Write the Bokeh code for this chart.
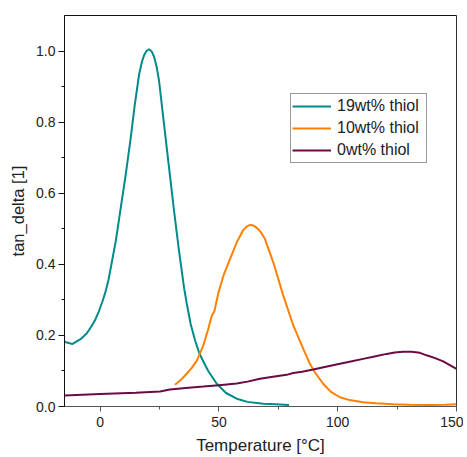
from bokeh.plotting import figure
from bokeh.models import (Range1d, FixedTicker, Legend, LegendItem, Span, PrintfTickFormatter)
from bokeh.embed import file_html
from bokeh.resources import INLINE

# ---- data ----
t19 = [-15, -14.4, -11.6, -8.1, -5.5, -3.9, -2, -0.4, 1, 2.4, 3.5, 4.5, 6.6, 8.7, 10.8,
       12.9, 14.6, 16.4, 17.6, 18.5, 19.5, 20.6, 21.7, 22.7, 23.8, 24.8, 26.9, 29.0, 31.1,
       33.2, 35.3, 36.4, 38.1, 40, 41.6, 42.8, 45.5, 49.1, 53, 57.5, 62, 68.7, 74, 79.5]
v19 = [0.183, 0.181, 0.176, 0.19, 0.207, 0.223, 0.245, 0.27, 0.296, 0.326, 0.356, 0.391,
       0.466, 0.56, 0.654, 0.757, 0.85, 0.934, 0.97, 0.988, 1.0, 1.005, 0.999, 0.984,
       0.955, 0.916, 0.794, 0.672, 0.551, 0.438, 0.335, 0.292, 0.232, 0.185, 0.153, 0.135,
       0.1, 0.064, 0.038, 0.022, 0.013, 0.008, 0.006, 0.004]

t10 = [31.5, 34, 36.4, 38.5, 40.7, 43.4, 45.5, 47.0, 48.1, 49.7, 51.9, 54.7, 57.5, 60.3,
       61.8, 63.1, 64.5, 65.9, 67.5, 69.4, 72.9, 77.1, 81.3, 85.5, 88.3, 90.5, 93.9, 97,
       100.9, 105, 110.7, 116, 123.3, 130, 138.8, 145, 150]
v10 = [0.061, 0.075, 0.092, 0.108, 0.129, 0.171, 0.218, 0.255, 0.268, 0.318, 0.368, 0.415,
       0.462, 0.497, 0.507, 0.511, 0.509, 0.503, 0.492, 0.471, 0.405, 0.312, 0.228, 0.162,
       0.12, 0.095, 0.064, 0.042, 0.026, 0.018, 0.012, 0.009, 0.006, 0.005, 0.004, 0.005,
       0.006]

t0 = [-15, 0, 15, 25.2, 29.4, 36, 43.4, 50, 57.5, 62, 67.3, 72, 78.5, 81.3, 85, 89.7,
      95, 100.9, 105, 110.7, 115, 120.6, 124, 127.5, 131, 134.6, 137.4, 141, 144.4, 150]
v0 = [0.031, 0.035, 0.039, 0.042, 0.048, 0.052, 0.056, 0.06, 0.065, 0.07, 0.078, 0.083,
      0.089, 0.094, 0.098, 0.104, 0.112, 0.12, 0.126, 0.134, 0.14, 0.148, 0.152, 0.154,
      0.154, 0.151, 0.144, 0.136, 0.127, 0.106]

labels = ["19wt% thiol", "10wt% thiol", "0wt% thiol"]
colors = ["#008B8B", "#FF8000", "#6B0A45"]

x_major = [0, 50, 100, 150]
x_minor = [25, 75, 125]
y_major = [0.0, 0.2, 0.4, 0.6, 0.8, 1.0]
y_minor = [0.1, 0.3, 0.5, 0.7, 0.9]

FONT = "Liberation Sans"

p = figure(width=463, height=457, output_backend="svg", toolbar_location=None,
           x_range=Range1d(-15, 150), y_range=Range1d(0, 1.1),
           min_border_left=64, min_border_right=7, min_border_top=15, min_border_bottom=51)
p.xgrid.visible = False
p.ygrid.visible = False
p.outline_line_color = "#111111"
p.outline_line_width = 1
p.background_fill_color = "white"
p.border_fill_color = "white"

r1 = p.line(t19, v19, line_color=colors[0], line_width=2)
r2 = p.line(t10, v10, line_color=colors[1], line_width=2)
r3 = p.line(t0, v0, line_color=colors[2], line_width=2)

# right frame edge gray
p.add_layout(Span(location=p.x_range.end, dimension="height", line_color="#555555", line_width=1))

xa = p.xaxis[0]
xa.ticker = FixedTicker(ticks=x_major, minor_ticks=x_minor)
xa.axis_label = "Temperature [°C]"
xa.axis_line_color = "#555555"
xa.major_tick_line_color = "#555555"
xa.minor_tick_line_color = "#555555"
xa.major_tick_out = 5
xa.major_tick_in = 0
xa.minor_tick_out = 3
xa.minor_tick_in = 0
xa.major_label_standoff = 5
xa.axis_label_standoff = 6
xa.major_label_text_font = FONT
xa.major_label_text_font_size = "14px"
xa.major_label_text_color = "#222222"
xa.axis_label_text_font = FONT
xa.axis_label_text_font_size = "17px"
xa.axis_label_text_font_style = "normal"
xa.axis_label_text_color = "#222222"

ya = p.yaxis[0]
ya.ticker = FixedTicker(ticks=y_major, minor_ticks=y_minor)
ya.formatter = PrintfTickFormatter(format="%.1f")
ya.axis_label = "tan_delta [1]"
ya.axis_line_color = "#111111"
ya.major_tick_line_color = "#111111"
ya.minor_tick_line_color = "#111111"
ya.major_tick_out = 6
ya.major_tick_in = 0
ya.minor_tick_out = 3
ya.minor_tick_in = 0
ya.major_label_standoff = 3
ya.axis_label_standoff = 6
ya.major_label_text_font = FONT
ya.major_label_text_font_size = "14px"
ya.major_label_text_color = "#222222"
ya.axis_label_text_font = FONT
ya.axis_label_text_font_size = "16.5px"
ya.axis_label_text_font_style = "normal"
ya.axis_label_text_color = "#222222"

legend = Legend(items=[LegendItem(label=labels[0], renderers=[r1]),
                       LegendItem(label=labels[1], renderers=[r2]),
                       LegendItem(label=labels[2], renderers=[r3])],
                location=(226, 243))
legend.border_line_color = "#333333"
legend.border_line_width = 1
legend.background_fill_color = "white"
legend.background_fill_alpha = 1
legend.label_text_font = FONT
legend.label_text_font_size = "16px"
legend.label_text_color = "#222222"
legend.glyph_width = 39
legend.glyph_height = 22
legend.label_height = 22
legend.label_width = 88
legend.label_standoff = 6
legend.spacing = 0
legend.padding = 1
legend.margin = 0
p.add_layout(legend, "center")

open("out.html", "w").write(file_html(p, INLINE))
